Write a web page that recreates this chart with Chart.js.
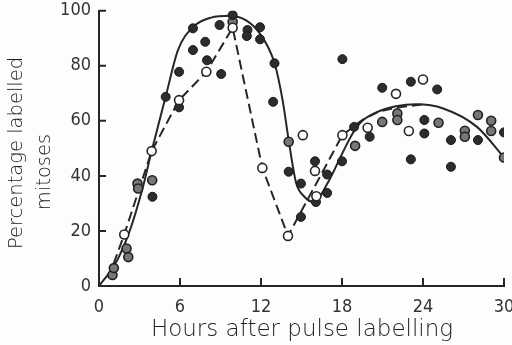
<!DOCTYPE html>
<html>
<head>
<meta charset="utf-8">
<script src="https://cdn.jsdelivr.net/npm/chart.js@4.4.1/dist/chart.umd.min.js"></script>
<style>
  html, body { margin: 0; padding: 0; background: #fdfdfd; }
  #wrap { width: 512px; height: 345px; }
</style>
</head>
<body>
<div id="wrap"><canvas id="chart" width="512" height="345"></canvas></div>
<script>
// tick labels
const hourTicks = [0, 6, 12, 18, 24, 30];
const pctTicks = [0, 20, 40, 60, 80, 100];

// fitted curve (solid)
const fitHours = [0, 1.2, 2.2, 3.2, 3.9, 4.95, 5.85, 7, 8.3, 9.7, 10.9, 11.9, 13, 13.6, 14.05, 14.6, 15.2, 15.9, 17, 18, 18.8, 19.5, 20.5, 22, 23.5, 25.5, 28, 30];
const fitPct   = [0, 8, 19, 35, 49, 69, 85.7, 94.2, 97.5, 98.2, 96.5, 91.8, 81, 67.5, 53, 37.5, 32.5, 30.5, 38, 48, 55.5, 60, 63, 65.3, 66, 64.5, 57.8, 46.7];

// dashed line through the open-circle means
const dashHours = [0.7, 1.87, 3.9, 5.93, 7.95, 9.9, 12.1, 14, 18.03, 19.5, 20.7, 22, 24];
const dashPct   = [3, 18.7, 49, 67.5, 77.8, 93.8, 42.9, 18.2, 54.8, 60.3, 63.3, 64.8, 66];

// open circles
const openHours = [1.87, 3.9, 5.93, 7.95, 9.9, 12.1, 14, 15.1, 16, 16.1, 18.03, 19.9, 22, 22.95, 24];
const openPct   = [18.7, 49, 67.5, 77.8, 93.8, 42.9, 18.2, 54.8, 41.8, 32.6, 54.8, 57.5, 69.8, 56.3, 75];

// solid dark dots
const darkHours = [3.96, 4.94, 5.93, 5.93, 6.96, 6.96, 7.87, 8, 8.93, 9.05, 9.9, 11, 10.95, 11.93, 11.93, 13, 12.9, 14.05, 14.96, 14.96, 16, 16.07, 16.9, 16.9, 18, 18.03, 18.9, 20.05, 20.98, 23.1, 24.1, 24.1, 23.1, 26.07, 26.07, 28.07, 30, 25.05];
const darkPct   = [32.4, 68.7, 64.9, 77.8, 85.7, 93.6, 88.7, 82, 94.8, 77, 98.4, 93, 90.8, 94, 89.6, 80.9, 66.9, 41.5, 37.2, 25.1, 45.3, 30.5, 40.5, 33.8, 45.3, 82.4, 57.8, 54.2, 72, 74.2, 60.3, 55.4, 46, 53, 43.3, 53, 55.8, 71.4];

// hatched (grey) dots
const greyHours = [1, 1.1, 2.04, 2.17, 2.85, 2.9, 3.94, 9.9, 14.05, 18.97, 20.98, 22.1, 22.1, 25.15, 27.1, 27.1, 28.07, 29.05, 29.05, 30];
const greyPct   = [4, 6.5, 13.6, 10.5, 37.2, 35.4, 38.4, 96, 52.4, 50.9, 59.6, 62.7, 60.3, 59.3, 56.4, 54.2, 62.1, 60, 56.3, 46.7];

const zip = (xs, ys) => xs.map((x, i) => ({ x: x, y: ys[i] }));

const INK = '#262626';
const TEXT = '#222222';

// small inward tick marks + axis titles
const axisDecor = {
  id: 'axisDecor',
  afterDraw(chart) {
    const ctx = chart.ctx;
    const xs = chart.scales.x, ys = chart.scales.y;
    const a = chart.chartArea;
    ctx.save();
    ctx.strokeStyle = INK;
    ctx.lineWidth = 2;
    ctx.beginPath();
    pctTicks.forEach(v => {
      if (v === 0) return;
      const py = ys.getPixelForValue(v);
      ctx.moveTo(a.left, py);
      ctx.lineTo(a.left + 7, py);
    });
    hourTicks.forEach(v => {
      if (v === 0) return;
      const px = xs.getPixelForValue(v);
      ctx.moveTo(px, a.bottom);
      ctx.lineTo(px, a.bottom - 8);
    });
    ctx.stroke();

    ctx.fillStyle = TEXT;
    ctx.textAlign = 'center';
    ctx.textBaseline = 'middle';
    ctx.font = '300 23px "DejaVu Sans"';
    ctx.fillText('Hours after pulse labelling', 302, 330);

    ctx.font = '300 19.5px "DejaVu Sans"';
    ctx.translate(17, 153);
    ctx.rotate(-Math.PI / 2);
    ctx.fillText('Percentage labelled', 0, 0);
    ctx.rotate(Math.PI / 2);
    ctx.translate(28, 19);
    ctx.rotate(-Math.PI / 2);
    ctx.fillText('mitoses', 0, 0);
    ctx.restore();
  }
};

new Chart(document.getElementById('chart'), {
  type: 'scatter',
  data: {
    datasets: [
      {
        label: 'open',
        data: zip(openHours, openPct),
        pointRadius: 4.5,
        pointBackgroundColor: '#ffffff',
        pointBorderColor: INK,
        pointBorderWidth: 1.6,
        order: 1
      },
      {
        label: 'dark',
        data: zip(darkHours, darkPct),
        pointRadius: 4.5,
        pointBackgroundColor: '#2c2c2c',
        pointBorderColor: '#1a1a1a',
        pointBorderWidth: 1,
        order: 2
      },
      {
        label: 'grey',
        data: zip(greyHours, greyPct),
        pointRadius: 4.5,
        pointBackgroundColor: '#777777',
        pointBorderColor: '#222222',
        pointBorderWidth: 1.6,
        order: 3
      },
      {
        label: 'dashed',
        type: 'line',
        data: zip(dashHours, dashPct),
        borderColor: INK,
        borderWidth: 2,
        borderDash: [10, 5],
        pointRadius: 0,
        tension: 0,
        order: 4
      },
      {
        label: 'fit',
        type: 'line',
        data: zip(fitHours, fitPct),
        borderColor: INK,
        borderWidth: 2,
        pointRadius: 0,
        cubicInterpolationMode: 'monotone',
        order: 5
      }
    ]
  },
  options: {
    responsive: false,
    animation: false,
    devicePixelRatio: 1,
    layout: { padding: { top: 10.7, right: 8, left: 0, bottom: 0 } },
    plugins: { legend: { display: false }, tooltip: { enabled: false } },
    scales: {
      x: {
        type: 'linear',
        min: 0, max: 30,
        afterFit: s => { s.height = 59; s.paddingLeft = 0; s.paddingRight = 0; },
        afterBuildTicks: s => { s.ticks = hourTicks.map(v => ({ value: v })); },
        grid: { display: false, drawTicks: false },
        border: { display: true, color: INK, width: 2 },
        ticks: { color: '#333333', padding: 11, font: { family: '"Liberation Sans Narrow", "DejaVu Sans Condensed"', size: 18 } }
      },
      y: {
        type: 'linear',
        min: 0, max: 100,
        afterFit: s => { s.width = 99; s.paddingTop = 0; s.paddingBottom = 0; },
        afterBuildTicks: s => { s.ticks = pctTicks.map(v => ({ value: v })); },
        grid: { display: false, drawTicks: false },
        border: { display: true, color: INK, width: 2 },
        ticks: { color: '#333333', padding: 8, font: { family: '"Liberation Sans Narrow", "DejaVu Sans Condensed"', size: 18 } }
      }
    }
  },
  plugins: [axisDecor]
});
</script>
</body>
</html>
